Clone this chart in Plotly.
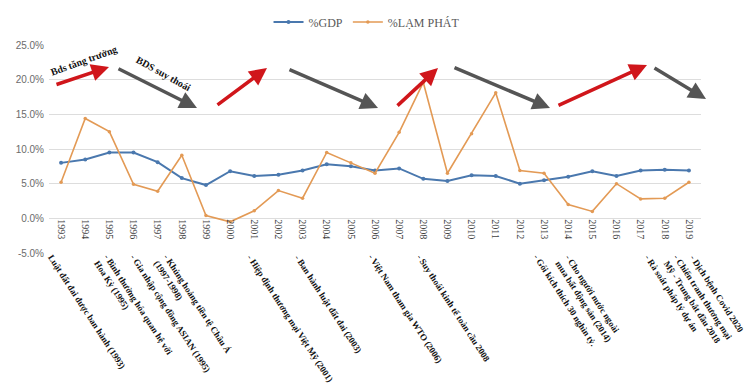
import math
import plotly.graph_objects as go

years = [str(y) for y in range(1993, 2020)]
gdp = [8.0, 8.5, 9.5, 9.5, 8.1, 5.8, 4.8, 6.8, 6.1, 6.3, 6.9, 7.8, 7.5, 6.9, 7.2,
       5.7, 5.4, 6.2, 6.1, 5.0, 5.5, 6.0, 6.8, 6.1, 6.9, 7.0, 6.9]
inflation = [5.2, 14.4, 12.5, 4.9, 3.9, 9.1, 0.4, -0.5, 1.1, 4.0, 2.9, 9.5, 8.0, 6.5, 12.4,
             19.6, 6.5, 12.2, 18.1, 6.9, 6.5, 2.0, 1.0, 5.0, 2.8, 2.9, 5.2]
y_ticks = [-5, 0, 5, 10, 15, 20, 25]
y_tick_labels = ["-5.0%", "0.0%", "5.0%", "10.0%", "15.0%", "20.0%", "25.0%"]

# event notes: (year, text, pixel offset of the text start from the tick)
events = [
    ("1993", "Luật đất đai được ban hành (1993)", -6),
    ("1995", "- Bình thường hóa quan hệ với<br>Hoa Kỳ (1995)", 1),
    ("1996", "- Gia nhập cộng đồng ASIAN (1995)", 4),
    ("1998", "- Khủng hoảng tiền tệ Châu Á<br>(1997-1998)", -12),
    ("2001", "- Hiệp định thương mại Việt Mỹ (2001)", -1),
    ("2003", "- Ban hành luật đất đai (2003)", -1),
    ("2006", "- Việt Nam tham gia WTO (2006)", 0),
    ("2008", "- Suy thoái kinh tế toàn cầu 2008", 0),
    ("2013", "- Gói kích thích 30 nghìn tỷ.", -4),
    ("2014", "- Cho người nước ngoài<br>mua bất động sản (2014)", 4),
    ("2017", "- Rà soát pháp lý dự án", 11),
    ("2018", "- Chiến tranh thương mại<br>Mỹ - Trung bắt đầu 2018", 15),
    ("2019", "- Dịch bệnh Covid 2020", 8),
]

# trend arrows: (tail px, head px, colour)
RED = "#D0161B"
GREY = "#555555"
arrows = [
    ((55, 85), (109, 67), RED),
    ((117, 68), (197, 108), GREY),
    ((216, 106), (267, 68), RED),
    ((288, 69), (378, 108), GREY),
    ((396, 107), (438, 68), RED),
    ((453, 67), (550, 108), GREY),
    ((557, 106), (647, 65), RED),
    ((653, 67), (706, 99), GREY),
]

L, R, T, B = 49, 47, 45, 131
W, H = 748, 384
PW, PH = W - L - R, H - T - B

x_idx = list(range(len(years)))

fig = go.Figure()
fig.add_trace(go.Scatter(
    x=x_idx, y=gdp, name="%GDP", mode="lines+markers",
    line=dict(color="#4A78AE", width=2), marker=dict(size=4, color="#4A78AE")))
fig.add_trace(go.Scatter(
    x=x_idx, y=inflation, name="%LẠM PHÁT", mode="lines+markers",
    line=dict(color="#E39A55", width=1.6), marker=dict(size=3.5, color="#E39A55")))

annotations = []
ang = 57
sa = math.sin(math.radians(ang))
FS = 9
for yr, txt, off in events:
    n = txt.count("<br>") + 1
    hbox = n * 1.3 * FS + 2
    annotations.append(dict(
        x=years.index(yr), y=0, xref="x", yref="paper",
        text=txt, showarrow=False, textangle=ang,
        xanchor="left", yanchor="top", align="left",
        xshift=off - hbox * sa, yshift=3,
        font=dict(family="Liberation Serif", size=FS, color="#111111", weight="bold")))

for (tx, ty), (hx, hy), col in arrows:
    annotations.append(dict(
        x=(hx - L) / PW, y=(T + PH - hy) / PH, xref="paper", yref="paper",
        ax=tx - hx, ay=ty - hy, axref="pixel", ayref="pixel",
        text="", showarrow=True, arrowhead=2, arrowsize=1, arrowwidth=3.5,
        arrowcolor=col, standoff=0))

annotations.append(dict(
    x=(84 - L) / PW, y=(T + PH - 61) / PH, xref="paper", yref="paper",
    xanchor="center", yanchor="middle",
    text="Bds tăng trưởng", showarrow=False, textangle=-20,
    font=dict(family="Liberation Serif", size=10, color="#111111", weight="bold")))
annotations.append(dict(
    x=(163 - L) / PW, y=(T + PH - 74) / PH, xref="paper", yref="paper",
    xanchor="center", yanchor="middle",
    text="BDS suy thoái", showarrow=False, textangle=29,
    font=dict(family="Liberation Serif", size=10, color="#111111", weight="bold")))

fig.update_layout(
    width=W, height=H,
    margin=dict(l=L, r=R, t=T, b=B, autoexpand=False),
    paper_bgcolor="white", plot_bgcolor="white",
    showlegend=True,
    legend=dict(orientation="h", x=0.487, xanchor="center", y=1 + (T - 22) / PH,
                yanchor="middle", font=dict(family="Liberation Serif", size=12, color="#595959"),
                itemwidth=30),
    xaxis=dict(range=[-0.5, len(years) - 0.5], tickvals=x_idx, ticktext=years,
               tickangle=90, showgrid=False, zeroline=False, showline=False,
               anchor="free", position=5 / 30, automargin=False,
               tickfont=dict(family="Liberation Serif", size=10, color="#404040")),
    yaxis=dict(range=[-5, 25], tickvals=y_ticks, ticktext=y_tick_labels,
               showgrid=True, gridcolor="#DDDDDD", gridwidth=1, zeroline=False,
               automargin=False, ticks="", ticklabelstandoff=4,
               tickfont=dict(family="Liberation Sans", size=10, color="#6B6B6B")),
    annotations=annotations,
)

fig.write_html("out.html", config={"displayModeBar": False},
               post_script="document.body.style.margin='0px';document.body.style.overflow='hidden';")
